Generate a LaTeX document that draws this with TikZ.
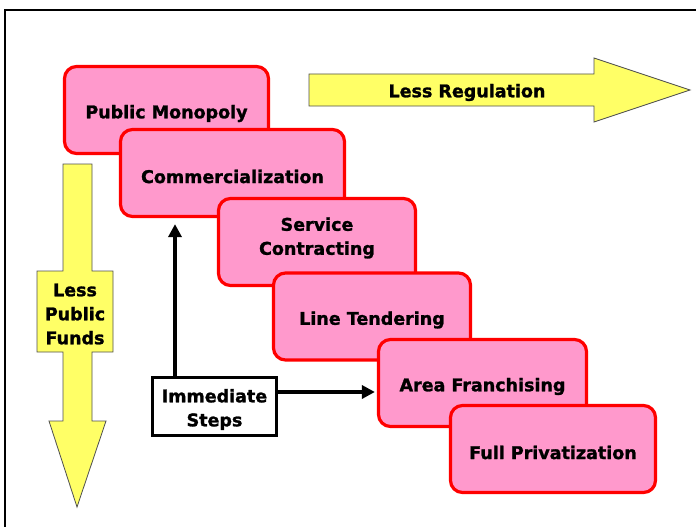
\documentclass[tikz,border=0pt]{standalone}
\usepackage{fontspec}
\setmainfont{DejaVu Sans}[BoldFeatures={FakeBold=1.4}]
\usetikzlibrary{arrows.meta}
\definecolor{pinkfill}{HTML}{FF99CC}
\definecolor{boxred}{HTML}{FF0000}
\definecolor{arrowyellow}{HTML}{FFFF66}
\definecolor{arrowline}{HTML}{505050}
\begin{document}
\begin{tikzpicture}[x=1pt,y=-1pt,
  txt/.style={font=\bfseries\fontsize{17.5}{24}\selectfont, align=center, inner sep=0pt},
  lbl/.style={txt, yshift=-3.5pt},
  stagebox/.style={draw=boxred, fill=pinkfill, line width=3.2pt, rounded corners=12pt, inner sep=0pt},
  stepsbox/.style={draw=black, fill=white, line width=3pt, inner sep=0pt},
  bigarrow/.style={fill=arrowyellow, draw=arrowline, line width=0.8pt, line join=miter},
  conn/.style={line width=4pt, -{Triangle[length=13pt,width=13pt]}}
]
\useasboundingbox (0,0) rectangle (696,527);
\fill[white] (0,0) rectangle (696,527);
% frame
\draw[line width=2pt] (4.5,530) -- (4.5,10.5) -- (700,10.5);

% Less Regulation arrow
\draw[bigarrow] (309,74) -- (594,74) -- (594,58) -- (690,90) -- (594,122) -- (594,106) -- (309,106) -- cycle;
\node[txt] (lessreg) at (467,92.5) {Less Regulation};

% Less Public Funds arrow
\draw[bigarrow] (63,164) -- (92,164) -- (92,271) -- (113,271) -- (113,352) -- (92,352) -- (92,421)
  -- (106,421) -- (77,507) -- (49,421) -- (63,421) -- (63,352) -- (37,352) -- (37,271) -- (63,271) -- cycle;
\node[txt] (lessfunds) at (75,314) {Less\\Public\\Funds};

% stages
\node[stagebox, minimum width=204pt, minimum height=87pt,
  label={[lbl]center:Public Monopoly}] (pm) at (166.5,110) {};
\node[stagebox, minimum width=224pt, minimum height=87pt,
  label={[lbl]center:Commercialization}] (comm) at (232.5,173) {};
\node[stagebox, minimum width=197pt, minimum height=87pt,
  label={[txt, yshift=4pt]center:Service\\Contracting}] (sc) at (317,242) {};
\node[stagebox, minimum width=197pt, minimum height=87pt,
  label={[lbl]center:Line Tendering}] (lt) at (372,316.5) {};
\node[stagebox, minimum width=208pt, minimum height=87pt,
  label={[lbl]center:Area Franchising}] (af) at (482.5,383) {};
\node[stagebox, minimum width=205pt, minimum height=87pt,
  label={[lbl]center:Full Privatization}] (fp) at (553,449) {};

% immediate steps
\node[stepsbox, minimum width=124pt, minimum height=58pt,
  label={[txt, yshift=-3pt]center:Immediate\\Steps}] (imm) at (214.5,406.5) {};
\coordinate (vx) at (175,0);
\coordinate (hy) at (0,392);
\draw[conn, shorten >=6pt] (imm.north -| vx) -- (comm.south -| vx);
\draw[conn, shorten >=2pt] (imm.east |- hy) -- (af.west |- hy);
\end{tikzpicture}
\end{document}
